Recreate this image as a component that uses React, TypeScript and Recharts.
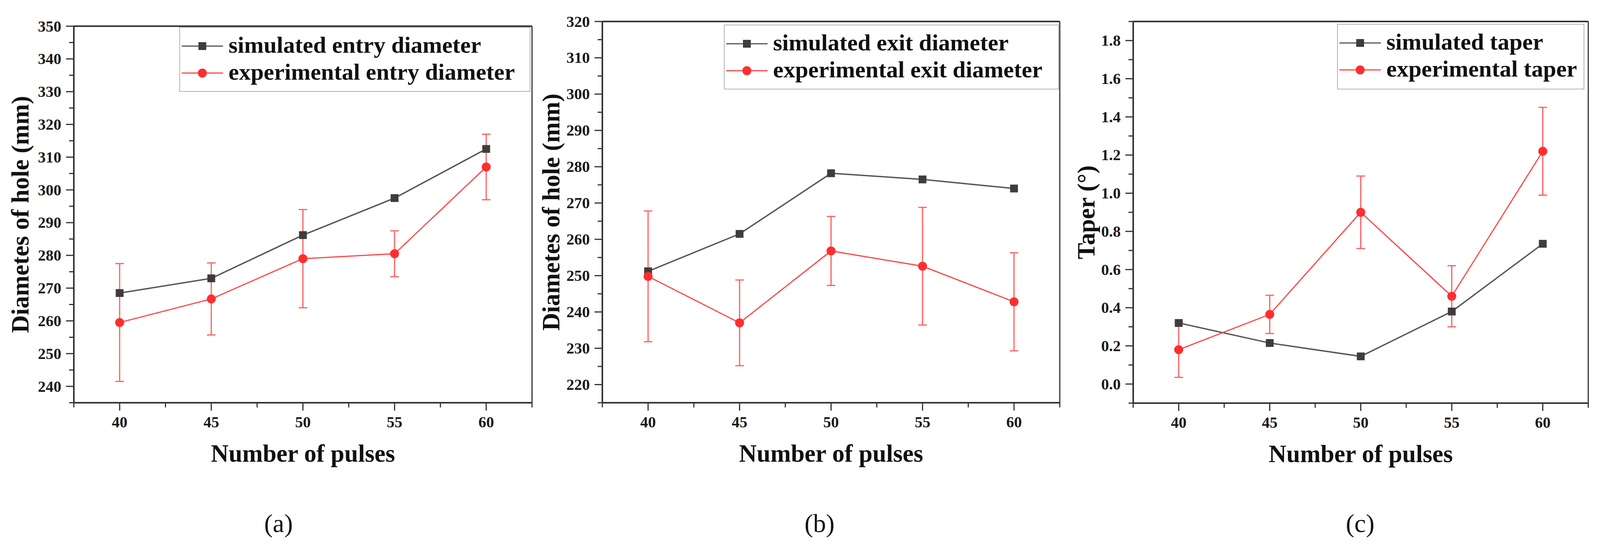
import React from 'react'
import { LineChart, Line, XAxis, YAxis, ErrorBar, ReferenceLine, Legend } from 'recharts'

const pulses = [40, 45, 50, 55, 60]

// (a) entry diameter
const entrySim = [268.5, 273.0, 286.2, 297.5, 312.5]
const entryExp = [259.5, 266.7, 279.0, 280.5, 307.0]
const entryErr = [18.0, 11.0, 15.0, 7.0, 10.0]

// (b) exit diameter
const exitSim = [251.2, 261.5, 278.2, 276.5, 274.0]
const exitExp = [249.8, 237.0, 256.8, 252.6, 242.8]
const exitErr = [18.0, 11.8, 9.5, 16.2, 13.5]

// (c) taper
const taperSim = [0.32, 0.215, 0.145, 0.38, 0.735]
const taperExp = [0.18, 0.365, 0.9, 0.46, 1.22]
const taperErr = [0.145, 0.1, 0.19, 0.16, 0.23]

// ticks
const xMajor = [40, 45, 50, 55, 60]
const xMinor = [37.5, 42.5, 47.5, 52.5, 57.5, 62.5]
const entryMajor = [240, 250, 260, 270, 280, 290, 300, 310, 320, 330, 340, 350]
const entryMinor = [235, 245, 255, 265, 275, 285, 295, 305, 315, 325, 335, 345]
const exitMajor = [220, 230, 240, 250, 260, 270, 280, 290, 300, 310, 320]
const exitMinor = [215, 225, 235, 245, 255, 265, 275, 285, 295, 305, 315]
const taperMajor = [0, 0.2, 0.4, 0.6, 0.8, 1.0, 1.2, 1.4, 1.6, 1.8]
const taperMinor = [-0.1, 0.1, 0.3, 0.5, 0.7, 0.9, 1.1, 1.3, 1.5, 1.7, 1.9]

const FONT = '"Liberation Serif", "Times New Roman", serif'
const AXIS = '#333'
const GRAY = '#555'
const DARK = '#3d3d3d'
const RED = '#ff4646'
const RED_DOT = '#ff2e2e'
const RED_ERR = '#ff5f5f'

// the page only shows about 4096px across, so squeeze the layout horizontally
const SX = 4096 / 4215
const sx = (v: number) => Math.round(v * SX)

const isMajor = (list: number[], v: number) => list.some((m) => Math.abs(m - v) < 1e-6)

function YTick(props: any) {
  const { x, y, payload, majors, fmt } = props
  const major = isMajor(majors, payload.value)
  return (
    <g>
      <line x1={x - (major ? 20 : 12)} x2={x} y1={y} y2={y} stroke={AXIS} strokeWidth={3} />
      {major && (
        <text x={x - 32} y={y} textAnchor="end" dominantBaseline="central" fontFamily={FONT} fontWeight="bold" fontSize={40} fill="#1a1a1a">
          {fmt(payload.value)}
        </text>
      )}
    </g>
  )
}

function XTick(props: any) {
  const { x, y, payload } = props
  const major = isMajor(xMajor, payload.value)
  return (
    <g>
      <line x1={x} x2={x} y1={y} y2={y + (major ? 20 : 12)} stroke={AXIS} strokeWidth={3} />
      {major && (
        <text x={x} y={y + 49} textAnchor="middle" dominantBaseline="central" fontFamily={FONT} fontWeight="bold" fontSize={40} fill="#1a1a1a">
          {payload.value}
        </text>
      )}
    </g>
  )
}

function SquareDot(props: any) {
  const { cx, cy } = props
  if (cx == null || cy == null) return null
  return <rect x={cx - 10} y={cy - 10} width={20} height={20} fill={DARK} />
}

function CircleDot(props: any) {
  const { cx, cy } = props
  if (cx == null || cy == null) return null
  return <circle cx={cx} cy={cy} r={11.5} fill={RED_DOT} />
}

function LegendBox({ w, h, labels }: { w: number; h: number; labels: string[] }) {
  const rows = [49, 118]
  return (
    <svg width={w} height={h} style={{ display: 'block' }}>
      <rect x={1} y={1} width={w - 2} height={h - 2} fill="#fff" stroke="#b4b4b4" strokeWidth={2} />
      <line x1={6} x2={112} y1={rows[0]} y2={rows[0]} stroke={GRAY} strokeWidth={3} />
      <rect x={49} y={rows[0] - 10} width={20} height={20} fill={DARK} />
      <line x1={6} x2={112} y1={rows[1]} y2={rows[1]} stroke={RED} strokeWidth={3} />
      <circle cx={59} cy={rows[1]} r={11.5} fill={RED_DOT} />
      {labels.map((t, i) => (
        <text key={t} x={126} y={rows[i] + 17} fontFamily={FONT} fontWeight="bold" fontSize={60} fill="#111">
          {t}
        </text>
      ))}
    </svg>
  )
}

interface PanelProps {
  left: number
  width: number
  plotLeft: number
  plotRight: number
  plotTop: number
  plotBottom: number
  sim: number[]
  exp: number[]
  err: number[]
  yMajor: number[]
  yMinor: number[]
  fmt: (v: number) => string
  yTitle: string
  yTitleX: number
  labels: string[]
  legendBox: { left: number; top: number; w: number; h: number }
  caption: string
  captionX: number
}

const H = 1250
const XAXIS_H = 180

function Panel(p: PanelProps) {
  const data = pulses.map((x, i) => ({ x, sim: p.sim[i], exp: p.exp[i], err: p.err[i] }))
  const yTicks = [...p.yMinor, ...p.yMajor].sort((a, b) => a - b)
  const xTicks = [...xMinor, ...xMajor].sort((a, b) => a - b)
  const yDomain = [yTicks[0], yTicks[yTicks.length - 1]]
  const margin = {
    top: p.plotTop,
    right: p.left + p.width - p.plotRight,
    bottom: H - p.plotBottom - XAXIS_H,
    left: 0,
  }
  return (
    <>
      <div style={{ position: 'absolute', left: p.left, top: 0 }}>
        <LineChart width={p.width} height={H} data={data} margin={margin}>
          <XAxis
            dataKey="x"
            type="number"
            domain={[37.5, 62.5]}
            ticks={xTicks}
            interval={0}
            tickSize={0}
            tickMargin={0}
            tickLine={false}
            tick={(t: any) => <XTick {...t} />}
            axisLine={{ stroke: AXIS, strokeWidth: 4 }}
            height={XAXIS_H}
            label={{
              content: (lp: any) => {
                const vb = lp.viewBox || {}
                return (
                  <text x={vb.x + vb.width / 2} y={vb.y + 151} textAnchor="middle" fontFamily={FONT} fontWeight="bold" fontSize={63} fill="#111">
                    Number of pulses
                  </text>
                )
              },
            }}
          />
          <YAxis
            type="number"
            domain={yDomain}
            ticks={yTicks}
            interval={0}
            tickSize={0}
            tickMargin={0}
            tickLine={false}
            tick={(t: any) => <YTick {...t} majors={p.yMajor} fmt={p.fmt} />}
            axisLine={{ stroke: AXIS, strokeWidth: 4 }}
            width={p.plotLeft - p.left}
            label={{
              content: (lp: any) => {
                const vb = lp.viewBox || {}
                const cx = p.yTitleX
                const cy = vb.y + vb.height / 2
                return (
                  <text x={cx} y={cy} transform={`rotate(-90 ${cx} ${cy})`} textAnchor="middle" dominantBaseline="central" fontFamily={FONT} fontWeight="bold" fontSize={63} fill="#111">
                    {p.yTitle}
                  </text>
                )
              },
            }}
          />
          <ReferenceLine y={yDomain[1]} stroke={AXIS} strokeWidth={4} />
          <ReferenceLine x={62.5} stroke={AXIS} strokeWidth={3} />
          <Line dataKey="sim" type="linear" stroke={GRAY} strokeWidth={3.5} dot={<SquareDot />} activeDot={false} isAnimationActive={false} />
          <Line dataKey="exp" type="linear" stroke={RED} strokeWidth={3} dot={<CircleDot />} activeDot={false} isAnimationActive={false}>
            <ErrorBar dataKey="err" direction="y" width={11} stroke={RED_ERR} strokeWidth={3} isAnimationActive={false} />
          </Line>
          <Legend
            layout="vertical"
            align="center"
            verticalAlign="middle"
            wrapperStyle={{ left: p.legendBox.left, top: p.legendBox.top, width: p.legendBox.w, height: p.legendBox.h, lineHeight: 0 }}
            content={() => <LegendBox w={p.legendBox.w} h={p.legendBox.h} labels={p.labels} />}
          />
        </LineChart>
      </div>
      <div
        style={{
          position: 'absolute',
          left: p.captionX,
          top: 1300,
          transform: 'translateX(-50%)',
          fontFamily: FONT,
          fontSize: 66,
          lineHeight: '80px',
          color: '#111',
        }}
      >
        {p.caption}
      </div>
    </>
  )
}

export default function App() {
  const int = (v: number) => String(Math.round(v))
  const dec = (v: number) => v.toFixed(1)
  return (
    <div style={{ position: 'absolute', left: 0, top: 0, width: sx(4215), height: 1408, background: '#fff', overflow: 'hidden' }}>
      <Panel
        left={0}
        width={sx(1420)}
        plotLeft={sx(194)}
        plotRight={sx(1402)}
        plotTop={67}
        plotBottom={1031}
        sim={entrySim}
        exp={entryExp}
        err={entryErr}
        yMajor={entryMajor}
        yMinor={entryMinor}
        fmt={int}
        yTitle="Diametes of hole (mm)"
        yTitleX={sx(53)}
        labels={['simulated entry diameter', 'experimental entry diameter']}
        legendBox={{ left: sx(472), top: 69, w: sx(1397) - sx(472), h: 166 }}
        caption="(a)"
        captionX={sx(734)}
      />
      <Panel
        left={sx(1410)}
        width={sx(2810) - sx(1410)}
        plotLeft={sx(1587)}
        plotRight={sx(2792)}
        plotTop={55}
        plotBottom={1031}
        sim={exitSim}
        exp={exitExp}
        err={exitErr}
        yMajor={exitMajor}
        yMinor={exitMinor}
        fmt={int}
        yTitle="Diametes of hole (mm)"
        yTitleX={sx(1452) - sx(1410)}
        labels={['simulated exit diameter', 'experimental exit diameter']}
        legendBox={{ left: sx(1907) - sx(1410), top: 63, w: sx(2790) - sx(1907), h: 166 }}
        caption="(b)"
        captionX={sx(2159)}
      />
      <Panel
        left={sx(2800)}
        width={sx(4210) - sx(2800)}
        plotLeft={sx(2985)}
        plotRight={sx(4184)}
        plotTop={55}
        plotBottom={1032}
        sim={taperSim}
        exp={taperExp}
        err={taperErr}
        yMajor={taperMajor}
        yMinor={taperMinor}
        fmt={dec}
        yTitle="Taper (°)"
        yTitleX={sx(2862) - sx(2800)}
        labels={['simulated taper', 'experimental taper']}
        legendBox={{ left: sx(3522) - sx(2800), top: 61, w: sx(4174) - sx(3522), h: 168 }}
        caption="(c)"
        captionX={sx(3583)}
      />
    </div>
  )
}
